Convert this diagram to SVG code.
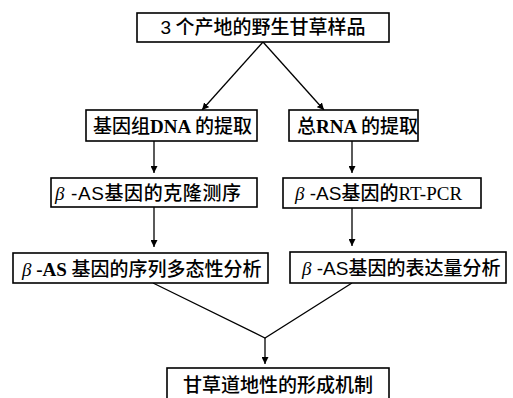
<svg xmlns="http://www.w3.org/2000/svg" width="513" height="398" viewBox="0 0 513 398">
<style>
.box{fill:#fff;stroke:#000;stroke-width:1.6}
.t{font-family:"Noto Sans CJK SC","Liberation Sans",sans-serif;font-size:19px;font-weight:500;fill:#000}
.ser{font-family:"Liberation Serif","Noto Sans CJK SC",serif;font-weight:normal}
.serb{font-family:"Liberation Serif","Noto Sans CJK SC",serif;font-weight:bold}
.sans{font-family:"Liberation Sans","Noto Sans CJK SC",sans-serif;font-weight:normal}
.beta{font-family:"Liberation Serif",serif;font-style:italic;font-weight:normal}
.c{fill:none;stroke:#000;stroke-width:1.3}
</style>
<defs>
<marker id="ah" viewBox="0 0 10 10" refX="10" refY="5" markerWidth="7" markerHeight="7" markerUnits="userSpaceOnUse" orient="auto">
<path d="M0,0 L10,5 L0,10 z" fill="#000"/>
</marker>
</defs>
<g id="connectors">
<line class="c" x1="263" y1="42" x2="202" y2="110" marker-end="url(#ah)"/>
<line class="c" x1="263" y1="42" x2="324" y2="110" marker-end="url(#ah)"/>
<line class="c" x1="154" y1="141" x2="154" y2="173" marker-end="url(#ah)"/>
<line class="c" x1="352" y1="141" x2="352" y2="173" marker-end="url(#ah)"/>
<line class="c" x1="154" y1="207" x2="154" y2="247" marker-end="url(#ah)"/>
<line class="c" x1="352" y1="208" x2="352" y2="246" marker-end="url(#ah)"/>
<polyline class="c" points="153,283 265,338 352,283"/>
<line class="c" x1="265" y1="338" x2="265" y2="364" marker-end="url(#ah)"/>
</g>
<g id="n1">
<rect class="box" x="137" y="13" width="252" height="29"/>
<text class="t" x="263" y="34" text-anchor="middle" font-size="18"><tspan class="sans">3</tspan> 个产地的野生甘草样品</text>
</g>
<g id="n2">
<rect class="box" x="86" y="110" width="171" height="31"/>
<text class="t" x="93" y="133">基因组<tspan class="serb">DNA </tspan>的提取</text>
</g>
<g id="n3">
<rect class="box" x="289" y="110" width="129" height="31"/>
<text class="t" x="297" y="133">总<tspan class="serb">RNA </tspan>的提取</text>
</g>
<g id="n4">
<rect class="box" x="51" y="178" width="206" height="29"/>
<text class="t" x="55" y="200" font-size="20" letter-spacing="0.6"><tspan class="beta">β</tspan><tspan class="sans"> -AS</tspan>基因的克隆测序</text>
</g>
<g id="n5">
<rect class="box" x="283" y="178" width="198" height="30"/>
<text class="t" x="295" y="200"><tspan class="beta">β</tspan><tspan class="sans"> -AS</tspan>基因的<tspan class="ser">RT-PCR</tspan></text>
</g>
<g id="n6">
<rect class="box" x="13" y="253" width="255" height="30"/>
<text class="t" x="22" y="276" font-size="18.7"><tspan class="beta">β</tspan><tspan class="serb"> -AS </tspan>基因的序列多态性分析</text>
</g>
<g id="n7">
<rect class="box" x="290" y="252" width="216" height="31"/>
<text class="t" x="302" y="275"><tspan class="beta">β</tspan><tspan class="sans"> -AS</tspan>基因的表达量分析</text>
</g>
<g id="n8">
<rect class="box" x="167" y="368" width="222" height="40"/>
<text class="t" x="278" y="392" text-anchor="middle" font-size="20">甘草道地性的形成机制</text>
</g>
</svg>
